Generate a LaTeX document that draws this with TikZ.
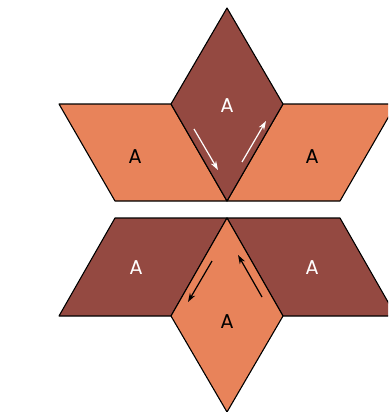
\documentclass[tikz,border=0pt]{standalone}
\usepackage{fontspec}
\setsansfont{Poppins}
\usetikzlibrary{arrows.meta}
\definecolor{StarOrange}{HTML}{E8835A}
\definecolor{StarBrown}{HTML}{944941}
\tikzset{
  tile/.style={draw=black,line width=1.1pt,line join=round},
  light/.style={tile,fill=StarOrange},
  dark/.style={tile,fill=StarBrown},
  tag/.style={font=\sffamily\fontsize{20}{24}\selectfont},
  flip/.style={-{Stealth[length=9pt,width=6pt]},line width=1.2pt}
}

\begin{document}
\begin{tikzpicture}[x=1pt,y=-1pt]
  \useasboundingbox (0,0) rectangle (388,412);
  \clip (0,0) rectangle (388,412);
  % upper star half
  \draw[light] (59,104) -- (171,104) -- (227,201) -- (115,201) -- cycle;
  \draw[light] (283,104) -- (396,104) -- (340,201) -- (227,201) -- cycle;
  \draw[dark] (227,8) -- (283,104) -- (227,201) -- (171,104) -- cycle;
  \node[tag,white] (topA) at (227,106) {A};
  \node[tag] (upleftA) at (135,157) {A};
  \node[tag] (uprightA) at (312,157) {A};
  % lower star half
  \draw[dark] (115,218) -- (227,218) -- (171,316) -- (59,316) -- cycle;
  \draw[dark] (227,218) -- (340,218) -- (396,316) -- (283,316) -- cycle;
  \draw[light] (227,218) -- (283,316) -- (227,412) -- (171,316) -- cycle;
  \node[tag,white] (lowleftA) at (136,268) {A};
  \node[tag,white] (lowrightA) at (312,268) {A};
  \node[tag] (bottomA) at (227,322) {A};
  % turning arrows
  \coordinate (t1) at (194,129);
  \coordinate (t2) at (218,170);
  \coordinate (t3) at (242,162);
  \coordinate (t4) at (266,121);
  \coordinate (b1) at (212,261);
  \coordinate (b2) at (188,302);
  \coordinate (b3) at (262,297);
  \coordinate (b4) at (238,255);
  \draw[flip,white] (t1) -- (t2);
  \draw[flip,white] (t3) -- (t4);
  \draw[flip] (b1) -- (b2);
  \draw[flip] (b3) -- (b4);
\end{tikzpicture}
\end{document}
